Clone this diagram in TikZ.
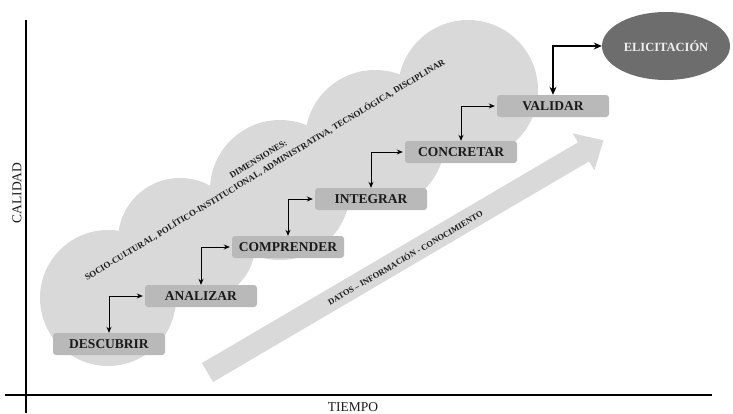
\documentclass[tikz,border=0pt]{standalone}
\usepackage{fontspec}
\setmainfont{Liberation Serif}
\usetikzlibrary{arrows.meta,shapes.geometric}
\definecolor{cloudgray}{HTML}{D9D9D9}
\definecolor{boxgray}{HTML}{B9B9B9}
\definecolor{ellgray}{HTML}{6D6D6D}
\definecolor{textdark}{HTML}{1A1A1A}
\begin{document}
\begin{tikzpicture}[x=1pt,y=-1pt,
  stepbox/.style={fill=boxgray, rounded corners=3pt, minimum width=112pt, minimum height=22pt,
    inner sep=0pt, font=\fontsize{13.5}{15}\selectfont\bfseries, text=textdark},
  conn/.style={{Stealth[length=6pt,width=5pt]}-{Stealth[length=6pt,width=5pt]}, line width=0.9pt, black},
  connbig/.style={{Stealth[length=8pt,width=7pt]}-{Stealth[length=8pt,width=7pt]}, line width=1.3pt, black},
  axis/.style={line width=1.5pt, black},
  axislabel/.style={font=\fontsize{13.5}{15}\selectfont, text=textdark, inner sep=0pt},
  smalltext/.style={font=\fontsize{8.8}{12.5}\selectfont\bfseries, text=textdark, inner sep=0pt, align=center}
  ]
\useasboundingbox (0,0) rectangle (733,413);
% cloud
\fill[cloudgray] (108,298) circle[radius=68];
\fill[cloudgray] (180,240) circle[radius=62];
\fill[cloudgray] (200,245) circle[radius=55];
\fill[cloudgray] (280,190) circle[radius=70];
\fill[cloudgray] (375,140) circle[radius=70];
\fill[cloudgray] (468,90) circle[radius=70];
% big arrow
\begin{scope}[shift={(207.5,372.5)}, rotate=30.4]
  \fill[cloudgray] (0,-11) -- (436,-11) -- (436,-21.5) -- (459,0) -- (436,21.5) -- (436,11) -- (0,11) -- cycle;
\end{scope}
\node[smalltext, font=\fontsize{8.5}{12}\selectfont\bfseries, rotate=30.4] (datos) at (405,257.5) {DATOS – INFORMACIÓN - CONOCIMIENTO};
\node[smalltext, rotate=31.2] (dim) at (262,165) {DIMENSIONES:\\SOCIO-CULTURAL, POLÍTICO-INSTITUCIONAL, ADMINISTRATIVA, TECNOLÓGICA, DISCIPLINAR};
% axes
\coordinate (ytop) at (26,20);
\coordinate (ybot) at (26,413);
\coordinate (xl) at (5,395);
\coordinate (xr) at (712,395);
\draw[axis] (ytop) -- (ybot);
\draw[axis] (xl) -- (xr);
\node[axislabel, rotate=90] (cal) at (17,193) {CALIDAD};
\node[axislabel] (tiempo) at (353,407) {TIEMPO};
% steps
\node[stepbox] (desc) at (109,344) {DESCUBRIR};
\node[stepbox] (anal) at (201,296) {ANALIZAR};
\node[stepbox] (comp) at (288,247) {COMPRENDER};
\node[stepbox] (integ) at (371,199) {INTEGRAR};
\node[stepbox] (concr) at (461,152) {CONCRETAR};
\node[stepbox] (valid) at (553,106) {VALIDAR};
\node[ellipse, fill=ellgray, minimum width=128pt, minimum height=68pt, inner sep=0pt,
  font=\fontsize{12.5}{14}\selectfont\bfseries, text=white!94!black] (elic) at (666,46) {ELICITACIÓN};
% connectors
\draw[conn] (desc.north) |- ([xshift=-2pt]anal.west);
\draw[conn] (anal.north) |- ([xshift=-2pt]comp.west);
\draw[conn] (comp.north) |- ([xshift=-2pt]integ.west);
\draw[conn] (integ.north) |- ([xshift=-2pt]concr.west);
\draw[conn] (concr.north) |- ([xshift=-2pt]valid.west);
\draw[connbig] (valid.north) |- (elic.west);
\end{tikzpicture}
\end{document}
